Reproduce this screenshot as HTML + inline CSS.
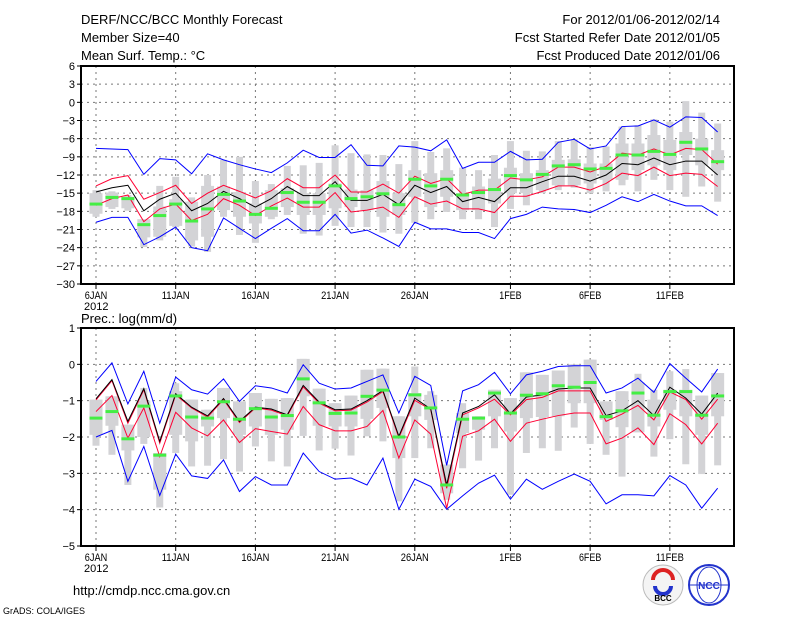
<!DOCTYPE html>
<html><head><meta charset="utf-8"><style>
html,body{margin:0;padding:0;background:#fff;width:800px;height:618px;overflow:hidden}
svg text{font-family:"Liberation Sans",sans-serif;fill:#000}
</style></head><body>
<svg id="c" width="800" height="618" viewBox="0 0 800 618">
<text x="81" y="24" font-size="13">DERF/NCC/BCC Monthly Forecast</text>
<text x="81" y="42" font-size="13">Member Size=40</text>
<text x="81" y="60" font-size="13">Mean Surf. Temp.: °C</text>
<text x="720" y="24" font-size="13" text-anchor="end">For 2012/01/06-2012/02/14</text>
<text x="720" y="42" font-size="13" text-anchor="end">Fcst Started Refer Date 2012/01/05</text>
<text x="720" y="60" font-size="13" text-anchor="end">Fcst Produced Date 2012/01/06</text>
<text x="81" y="323" font-size="13">Prec.: log(mm/d)</text>
<text x="73" y="595" font-size="13">http://cmdp.ncc.cma.gov.cn</text>
<text x="3" y="614" font-size="9">GrADS: COLA/IGES</text>
<g>
<circle cx="663" cy="585" r="20" fill="#f4f4f4" stroke="#bbb"/>
<path d="M653,580 a10,10 0 0 1 20,0" fill="none" stroke="#d22" stroke-width="4"/>
<path d="M655,586 a8,8 0 0 0 16,0" fill="none" stroke="#23c" stroke-width="4"/>
<text x="663" y="601" font-size="8" text-anchor="middle" font-weight="bold">BCC</text>
</g>
<g>
<circle cx="709" cy="585" r="20" fill="#fff" stroke="#23c" stroke-width="2"/>
<ellipse cx="709" cy="585" rx="12" ry="18" fill="none" stroke="#23c"/>
<line x1="689" y1="585" x2="729" y2="585" stroke="#23c"/>
<text x="709" y="589" font-size="10" text-anchor="middle" font-weight="bold" style="fill:#23c">NCC</text>
</g>
</svg>
<script>
// ---- Temperature panel data ----
const days = ["6JAN","11JAN","16JAN","21JAN","26JAN","1FEB","6FEB","11FEB"];
const dayIdx = [0,5,10,15,20,26,31,36];
const tTicks = [6,3,0,-3,-6,-9,-12,-15,-18,-21,-24,-27,-30];
const pTicks = [1,0,-1,-2,-3,-4,-5];
const tMax = [-7.6,-7.7,-7.8,-11.9,-9.3,-9.5,-11.8,-8.5,-9.5,-10.3,-11.0,-11.6,-10.0,-7.9,-9.1,-9.1,-7.0,-10.4,-10.5,-7.2,-7.4,-8.0,-6.2,-10.9,-9.9,-9.9,-8.1,-9.5,-9.4,-6.6,-6.1,-7.7,-7.2,-4.0,-3.9,-2.9,-4.1,-2.4,-2.5,-4.9];
const tMin = [-19.8,-19.0,-19.0,-23.5,-22.2,-20.6,-24.0,-24.5,-19.1,-20.8,-22.5,-20.8,-19.2,-21.2,-21.2,-18.5,-21.6,-21.1,-22.4,-23.8,-19.8,-20.9,-20.9,-21.5,-21.5,-22.5,-19.2,-18.5,-17.3,-17.6,-17.7,-18.2,-17.0,-15.6,-16.4,-15.2,-16.3,-17.1,-17.1,-18.7];
const tMean = [-14.8,-14.1,-13.7,-17.9,-16.0,-15.0,-17.9,-16.7,-14.7,-15.9,-17.3,-15.9,-13.9,-15.4,-15.4,-13.1,-16.2,-16.2,-15.2,-16.9,-13.7,-14.9,-13.9,-16.4,-15.7,-16.4,-14.1,-14.1,-13.1,-12.2,-12.2,-13.0,-12.0,-10.1,-10.3,-9.2,-10.3,-9.7,-9.7,-12.0];
const tUp = [-13.8,-12.6,-12.1,-16.0,-14.9,-13.7,-16.7,-15.0,-13.7,-14.7,-15.8,-14.6,-12.6,-14.1,-14.1,-12.0,-14.8,-14.8,-13.5,-15.0,-12.2,-13.4,-12.6,-15.2,-14.5,-14.5,-12.5,-12.8,-12.3,-10.7,-10.7,-11.5,-10.6,-8.4,-8.7,-7.7,-8.7,-7.6,-7.8,-10.2];
const tLo = [-17.0,-15.9,-15.3,-19.7,-17.6,-16.8,-19.5,-18.5,-15.9,-17.0,-18.7,-17.1,-15.8,-17.3,-17.3,-14.9,-18.1,-17.8,-17.3,-19.0,-15.6,-16.8,-16.3,-17.6,-17.6,-18.2,-15.5,-15.5,-14.7,-13.8,-13.8,-14.5,-13.4,-11.7,-12.1,-10.7,-12.1,-11.7,-11.9,-13.9];
const tObs = [-16.8,-15.7,-15.9,-20.2,-18.7,-16.8,-19.6,-17.6,-15.2,-16.3,-18.5,-17.5,-14.9,-16.5,-16.5,-13.8,-15.9,-15.6,-15.1,-16.9,-12.7,-13.8,-12.7,-15.3,-14.9,-14.4,-12.1,-12.8,-11.9,-10.5,-10.3,-11.0,-10.9,-8.7,-8.7,-8.1,-8.6,-6.6,-7.7,-9.8];
const tBarHi = [-14.5,-14.7,-15.3,-19.3,-13.8,-12.3,-15.7,-12.0,-9.5,-9.0,-13.0,-13.5,-10.5,-10.4,-10.0,-7.1,-8.4,-8.6,-8.7,-10.2,-6.4,-8.2,-7.6,-10.8,-11.2,-8.7,-6.4,-8.0,-8.1,-6.4,-6.1,-7.4,-7.3,-4.0,-3.8,-2.8,-3.2,0.2,-1.7,-3.5];
const tBarLo = [-18.9,-17.6,-17.9,-23.9,-22.8,-20.6,-23.8,-24.7,-18.9,-21.9,-23.2,-19.3,-18.6,-21.7,-22.0,-20.4,-20.6,-20.6,-21.5,-21.7,-19.9,-19.3,-18.1,-19.3,-19.3,-20.6,-17.6,-17.0,-15.0,-14.5,-14.1,-15.0,-14.7,-13.7,-14.7,-12.8,-14.5,-15.6,-13.9,-16.4];
const tBoxHi = [-15.0,-14.9,-15.6,-19.3,-17.2,-16.0,-16.4,-13.8,-13.9,-14.8,-16.7,-14.5,-14.2,-15.0,-15.0,-13.4,-14.4,-14.5,-13.0,-15.0,-11.2,-11.7,-11.2,-15.0,-13.9,-12.6,-10.8,-11.7,-11.2,-9.5,-9.4,-10.1,-10.1,-6.8,-6.8,-5.4,-6.2,-4.9,-6.0,-7.9];
const tBoxLo = [-18.4,-17.3,-17.5,-22.3,-22.2,-20.4,-22.8,-22.2,-17.8,-18.9,-20.0,-18.9,-17.3,-18.6,-18.6,-17.5,-17.3,-17.8,-18.9,-18.6,-15.6,-17.3,-15.6,-17.8,-17.8,-16.7,-15.0,-15.0,-14.5,-13.7,-13.7,-13.4,-12.8,-12.8,-11.2,-10.4,-11.2,-8.7,-10.4,-11.2];
// ---- Precipitation panel data ----
const pMax = [-0.47,0.04,-1.09,-0.19,-1.62,-0.35,-0.70,-0.82,-0.40,-1.02,-0.59,-0.65,-0.79,-0.01,-0.52,-0.68,-0.65,-0.47,-0.29,-1.34,-0.33,-0.58,-2.78,-0.73,-0.56,-0.22,-0.81,-0.29,-0.19,-0.06,-0.04,-0.04,-0.79,-0.65,-0.38,-0.77,0.02,-0.38,-0.76,-0.13];
const pMin = [-2.0,-1.82,-3.22,-2.26,-3.61,-2.47,-3.07,-3.14,-2.63,-3.50,-3.09,-3.32,-3.32,-2.44,-2.95,-3.16,-3.13,-3.32,-2.58,-3.99,-3.16,-3.36,-3.99,-3.62,-3.27,-3.05,-3.71,-3.16,-3.44,-3.22,-3.02,-3.22,-3.84,-3.59,-3.59,-3.62,-3.06,-3.32,-3.96,-3.41];
const pMean = [-0.95,-0.42,-1.57,-0.67,-2.12,-0.81,-1.18,-1.42,-0.94,-1.57,-1.18,-1.23,-1.39,-0.58,-1.04,-1.25,-1.23,-1.0,-0.72,-1.98,-0.93,-1.23,-3.32,-1.34,-1.16,-0.84,-1.36,-0.90,-0.84,-0.68,-0.65,-0.65,-1.41,-1.28,-1.0,-1.41,-0.63,-0.93,-1.37,-0.79];
const pUp = [-0.98,-0.45,-1.62,-0.70,-2.17,-0.84,-1.20,-1.45,-0.97,-1.60,-1.20,-1.26,-1.42,-0.62,-1.07,-1.28,-1.26,-1.04,-0.75,-2.02,-0.99,-1.25,-3.41,-1.39,-1.20,-0.96,-1.39,-0.97,-0.91,-0.73,-0.73,-0.73,-1.57,-1.37,-1.13,-1.53,-0.76,-0.97,-1.51,-0.96];
const pLo = [-1.30,-0.86,-2.03,-1.20,-2.54,-1.32,-1.75,-1.97,-1.53,-2.15,-1.77,-1.85,-1.92,-1.16,-1.66,-1.83,-1.83,-1.71,-1.27,-2.58,-1.53,-1.92,-3.96,-1.98,-1.83,-1.51,-2.12,-1.62,-1.51,-1.41,-1.34,-1.34,-2.19,-2.03,-1.75,-2.21,-1.36,-1.66,-2.19,-1.62];
const pObs = [-1.48,-1.30,-2.05,-1.15,-2.50,-0.87,-1.45,-1.48,-1.03,-1.51,-1.22,-1.45,-1.41,-0.40,-1.06,-1.35,-1.34,-0.88,-0.71,-2.0,-0.84,-1.20,-3.32,-1.51,-1.48,-0.79,-1.34,-0.85,-0.81,-0.59,-0.63,-0.50,-1.44,-1.28,-0.79,-1.40,-0.75,-0.75,-1.40,-0.87];
const pBarHi = [-0.97,-0.88,-1.66,-0.65,-2.44,-0.52,-0.97,-1.25,-0.65,-1.02,-0.79,-0.95,-0.93,0.15,-0.67,-1.07,-0.86,-0.15,-0.12,-1.43,-0.06,-0.74,-2.76,-1.07,-1.43,-0.70,-0.93,-0.22,-0.29,-0.17,0.0,0.13,-1.02,-0.74,-0.26,-0.70,-0.19,-0.13,-0.86,-0.24];
const pBarLo = [-2.24,-2.49,-3.32,-2.19,-3.94,-2.44,-2.81,-2.79,-2.61,-2.95,-2.26,-2.67,-2.81,-1.97,-2.37,-2.32,-2.51,-1.98,-2.12,-3.77,-2.58,-2.31,-3.73,-2.86,-2.65,-2.31,-3.59,-2.44,-2.31,-2.38,-1.74,-2.19,-2.49,-3.09,-1.87,-2.54,-2.06,-2.75,-3.02,-2.78];
const pBoxHi = [-0.97,-0.88,-1.66,-1.0,-2.44,-0.74,-0.97,-1.25,-0.65,-1.02,-0.79,-0.95,-0.93,0.15,-0.67,-1.07,-0.86,-0.15,-0.12,-1.43,-0.79,-0.84,-2.76,-1.34,-1.43,-0.70,-0.93,-0.22,-0.29,-0.17,0.0,0.13,-1.02,-0.74,-0.5,-0.97,-0.70,-0.70,-0.86,-0.24];
const pBoxLo = [-1.94,-1.69,-2.37,-2.0,-3.45,-1.94,-2.12,-1.71,-1.48,-1.94,-1.71,-1.94,-1.80,-0.88,-1.69,-1.71,-1.71,-1.50,-1.20,-2.58,-1.43,-1.53,-3.55,-1.89,-1.80,-1.43,-1.85,-1.48,-1.45,-1.43,-1.07,-1.07,-1.53,-1.73,-1.87,-1.71,-1.25,-1.43,-1.94,-1.43];

const NS="http://www.w3.org/2000/svg";
const svg=document.getElementById('c');
const X0=81,X1=734,D0=96,DX=15.94;
function xs(i){return D0+i*DX;}
function mk(tag,attrs,parent){const e=document.createElementNS(NS,tag);for(const k in attrs)e.setAttribute(k,attrs[k]);(parent||svg).appendChild(e);return e;}

function panel(cfg){
  const g=mk('g',{});
  
  
  const ys=v=>cfg.top+(cfg.vmax-v)*(cfg.bot-cfg.top)/(cfg.vmax-cfg.vmin);
  // grid
  cfg.ticks.forEach(t=>{
    if(t<cfg.vmax&&t>cfg.vmin){const l=mk('line',{x1:X0,x2:X1,y1:ys(t),y2:ys(t),stroke:'#777','stroke-dasharray':'2,4','stroke-width':1},g);
      
      }
    const tk=mk('line',{x1:X0-4,x2:X0,y1:ys(t),y2:ys(t),stroke:'#000'},g);
    
    
    const tx=mk('text',{x:X0-6,y:ys(t)+4,'font-size':11,'text-anchor':'end'},g);
    tx.textContent=(t<0?'\u2212'+(-t):String(t));
    
    
  });
  dayIdx.forEach((d,k)=>{
    const l=mk('line',{x1:xs(d),x2:xs(d),y1:cfg.top,y2:cfg.bot,stroke:'#777','stroke-dasharray':'2,4'},g);
    
    
    const tk=mk('line',{x1:xs(d),x2:xs(d),y1:cfg.bot,y2:cfg.bot+5,stroke:'#000'},g);
    
    
    const tx=mk('text',{x:xs(d),y:cfg.bot+15,'font-size':11,'text-anchor':'middle',textLength:days[k].length*5.6,lengthAdjust:'spacingAndGlyphs'},g);
    tx.textContent=days[k];
    
    
  });
  const yr=mk('text',{x:xs(0)-12,y:cfg.bot+26,'font-size':11},g);
  yr.textContent='2012';
  
  
  // gray bars
  cfg.barHi.forEach((v,i)=>{
    const r=mk('rect',{x:xs(i)-3.5,y:ys(v),width:7,height:Math.max(1,ys(cfg.barLo[i])-ys(v)),fill:'#d3d3d6'},g);
    
    
    const b=mk('rect',{x:xs(i)-6.5,y:ys(cfg.boxHi[i]),width:13,height:Math.max(1,ys(cfg.boxLo[i])-ys(cfg.boxHi[i])),fill:'#d3d3d6'},g);
    
    
  });
  // lines
  const lines=[[cfg.max,'#0000ff','max-line'],[cfg.min,'#0000ff','min-line'],[cfg.lo,'#ff0033','lower-line'],[cfg.up,'#ff0033','upper-line'],[cfg.mean,'#000','mean-line']];
  lines.forEach(([arr,col,nm])=>{
    const p=mk('polyline',{points:arr.map((v,i)=>xs(i)+','+ys(v)).join(' '),fill:'none',stroke:col,'stroke-width':1},g);
    
    
  });
  cfg.obs.forEach((v,i)=>{
    const r=mk('rect',{x:xs(i)-6.5,y:ys(v)-1.5,width:13,height:3,fill:'#44ee44'},g);
    
    
  });
  const fr=mk('rect',{x:X0,y:cfg.top,width:X1-X0,height:cfg.bot-cfg.top,fill:'none',stroke:'#000','stroke-width':2},g);
  
  
}
panel({name:'temperature-panel',top:66,bot:284,vmax:6,vmin:-30,ticks:tTicks,max:tMax,min:tMin,mean:tMean,up:tUp,lo:tLo,obs:tObs,barHi:tBarHi,barLo:tBarLo,boxHi:tBoxHi,boxLo:tBoxLo});
panel({name:'precipitation-panel',top:328,bot:546,vmax:1,vmin:-5,ticks:pTicks,max:pMax,min:pMin,mean:pMean,up:pUp,lo:pLo,obs:pObs,barHi:pBarHi,barLo:pBarLo,boxHi:pBoxHi,boxLo:pBoxLo});
</script>
</body></html>
